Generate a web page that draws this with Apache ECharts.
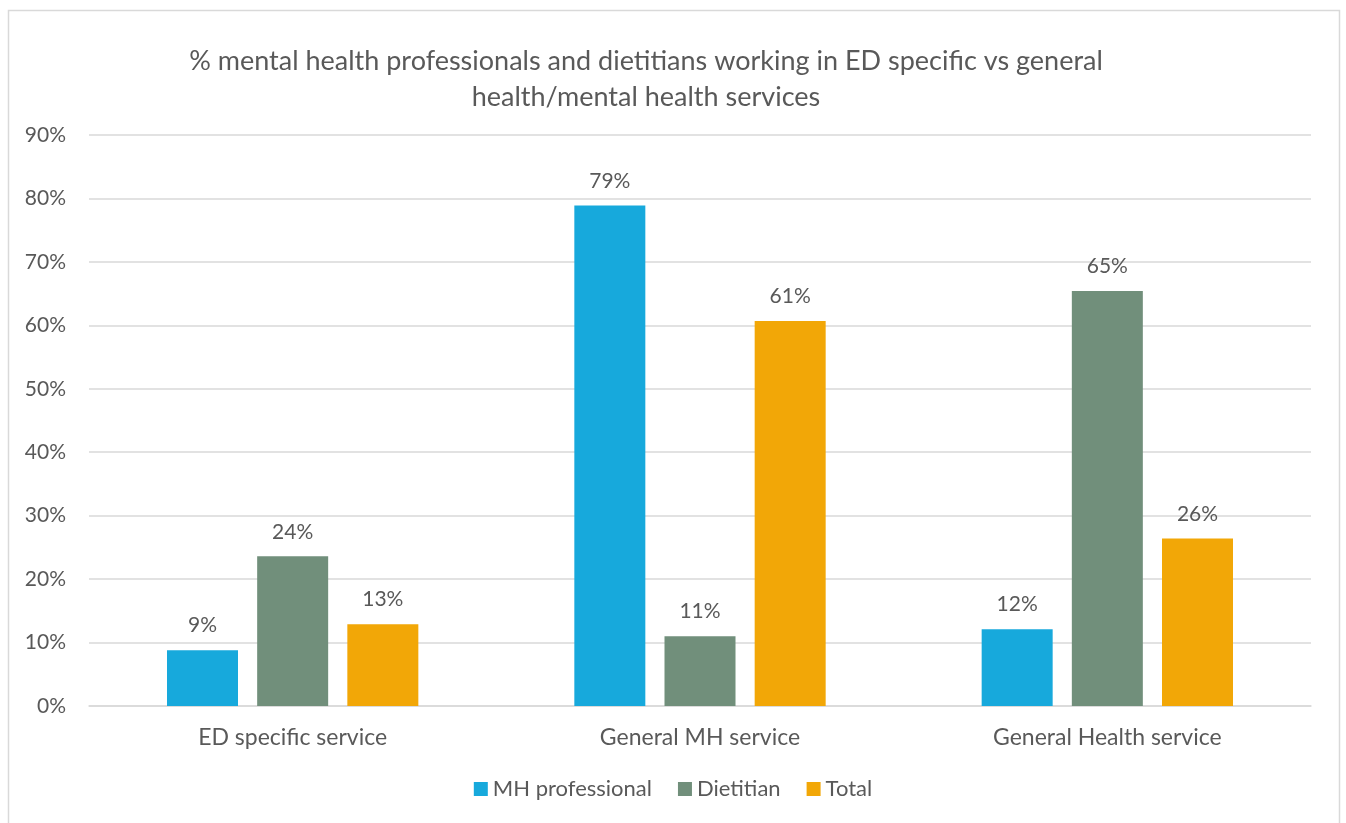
<!DOCTYPE html>
<html>
<head>
<meta charset="utf-8">
<title>Workforce by service type</title>
<script src="https://cdn.jsdelivr.net/npm/echarts@6/dist/echarts.min.js"></script>
<style>
  html, body { margin: 0; padding: 0; background: #ffffff; }
  #chart { width: 1346px; height: 823px; }
</style>
</head>
<body>
<div id="chart"></div>
<script>
// Service categories along the x axis
const categories = ['ED specific service', 'General MH service', 'General Health service'];

// Percentage of each workforce group per service type
const mhProfessional = [8.8, 78.9, 12.1];
const dietitian = [23.6, 11.0, 65.4];
const total = [12.9, 60.7, 26.4];

const seriesNames = ['MH professional', 'Dietitian', 'Total'];
const yTicks = { min: 0, max: 90, interval: 10 };

const titleText = '% mental health professionals and dietitians working in ED specific vs general\nhealth/mental health services';

const FONT = 'Lato, "Open Sans", sans-serif';
const TEXT = '#595959';

const chart = echarts.init(document.getElementById('chart'), null, { renderer: 'canvas' });

function barSeries(name, data, color) {
  return {
    name: name,
    type: 'bar',
    data: data,
    barWidth: 71,
    barGap: '27%',
    itemStyle: { color: color },
    label: {
      show: true,
      position: 'top',
      distance: 14,
      color: TEXT,
      fontFamily: FONT,
      fontSize: 21,
      formatter: p => Math.round(p.value) + '%'
    },
    emphasis: { disabled: true }
  };
}

chart.setOption({
  backgroundColor: '#ffffff',
  animation: false,
  graphic: [{
    type: 'rect',
    shape: { x: 8.5, y: 10.5, width: 1331, height: 840 },
    style: { fill: 'none', stroke: '#d9d9d9', lineWidth: 1.5 },
    silent: true,
    z: -1
  }],
  title: {
    text: titleText,
    left: 641,
    top: 38,
    textAlign: 'center',
    textStyle: {
      color: TEXT,
      fontFamily: FONT,
      fontWeight: 'normal',
      fontSize: 27,
      lineHeight: 36
    }
  },
  legend: {
    data: seriesNames,
    left: 'center',
    top: 773,
    itemWidth: 14,
    itemHeight: 14,
    itemGap: 26,
    icon: 'rect',
    textStyle: { color: TEXT, fontFamily: FONT, fontSize: 22 }
  },
  grid: { left: 89, right: 35, top: 135, bottom: 117, containLabel: false },
  xAxis: {
    type: 'category',
    data: categories,
    axisLine: { lineStyle: { color: '#d9d9d9', width: 1.5 } },
    axisTick: { show: false },
    axisLabel: { color: TEXT, fontFamily: FONT, fontSize: 23, margin: 20 }
  },
  yAxis: {
    type: 'value',
    min: yTicks.min,
    max: yTicks.max,
    interval: yTicks.interval,
    axisLine: { show: false },
    axisTick: { show: false },
    splitLine: { lineStyle: { color: '#d9d9d9', width: 1.5 } },
    axisLabel: {
      color: TEXT,
      fontFamily: FONT,
      fontSize: 21,
      margin: 23,
      formatter: v => v + '%'
    }
  },
  series: [
    barSeries(seriesNames[0], mhProfessional, '#17a9dc'),
    barSeries(seriesNames[1], dietitian, '#718f7b'),
    barSeries(seriesNames[2], total, '#f2a707')
  ]
});
</script>
</body>
</html>
